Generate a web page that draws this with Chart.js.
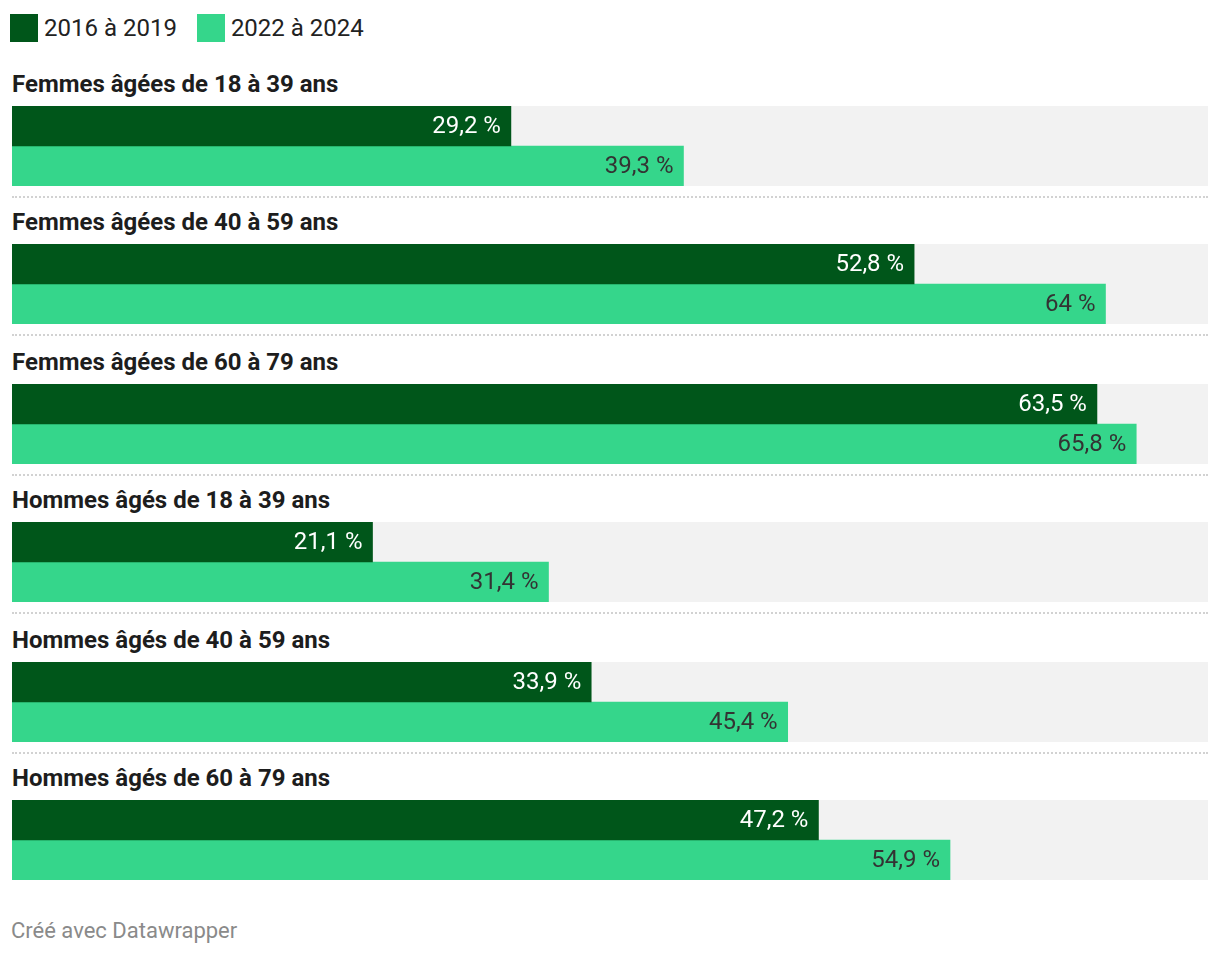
<!DOCTYPE html>
<html>
<head>
<meta charset="utf-8">
<script src="https://cdn.jsdelivr.net/npm/chart.js@4"></script>
<style>
  body { margin: 0; background: #fff; font-family: Roboto, sans-serif; }
  #wrap { position: relative; width: 1220px; height: 956px; }
  .legend { position: absolute; top: 14px; left: 10px; display: flex; align-items: center; font-size: 24px; color: #222; line-height: 28px; }
  .legend .sw { width: 28px; height: 28px; display: inline-block; margin-right: 6px; }
  .legend .item { display: flex; align-items: center; margin-right: 20px; }
  .title { position: absolute; left: 12px; font-size: 24px; font-weight: bold; color: #1d1d1d; line-height: 24px; }
  .chart { position: absolute; left: 12px; }
  .sep { position: absolute; left: 12px; width: 1196px; border-top: 2px dotted #d2d2d2; }
  .foot { position: absolute; left: 11px; top: 918px; font-size: 22px; color: #8a8a8a; }
</style>
</head>
<body>
<div id="wrap"></div>
<script>
const categories = [
  "Femmes âgées de 18 à 39 ans",
  "Femmes âgées de 40 à 59 ans",
  "Femmes âgées de 60 à 79 ans",
  "Hommes âgés de 18 à 39 ans",
  "Hommes âgés de 40 à 59 ans",
  "Hommes âgés de 60 à 79 ans"
];
const seriesNames = ["2016 à 2019", "2022 à 2024"];
const values2016 = [29.2, 52.8, 63.5, 21.1, 33.9, 47.2];
const values2022 = [39.3, 64, 65.8, 31.4, 45.4, 54.9];
const axisMax = 70;

const colors = ["#00561a", "#35d68b"];
const labelColors = ["#ffffff", "#333333"];
const barTops = [106, 244, 384, 522, 662, 800];

const wrap = document.getElementById("wrap");

// legend
const legend = document.createElement("div");
legend.className = "legend";
seriesNames.forEach((name, i) => {
  legend.innerHTML += `<span class="item"><span class="sw" style="background:${colors[i]}"></span>${name}</span>`;
});
wrap.appendChild(legend);

const fmt = v => String(v).replace(".", ",") + " %";

const valueLabels = {
  id: "valueLabels",
  beforeDraw(chart) {
    const { ctx, chartArea } = chart;
    const x0 = chart.scales.x.getPixelForValue(0);
    const x1 = chart.scales.x.getPixelForValue(axisMax);
    ctx.save();
    ctx.fillStyle = "#f2f2f2";
    ctx.fillRect(x0, chartArea.top, x1 - x0, chartArea.bottom - chartArea.top);
    ctx.restore();
  },
  afterDatasetsDraw(chart) {
    const ctx = chart.ctx;
    ctx.save();
    ctx.font = "24px Roboto";
    ctx.textAlign = "right";
    ctx.textBaseline = "middle";
    chart.data.datasets.forEach((ds, di) => {
      chart.getDatasetMeta(di).data.forEach((bar, i) => {
        ctx.fillStyle = labelColors[di];
        ctx.fillText(fmt(ds.data[i]), bar.x - 10, bar.y + 1);
      });
    });
    ctx.restore();
  }
};

categories.forEach((cat, i) => {
  const t = document.createElement("div");
  t.className = "title";
  t.style.top = (barTops[i] - 34) + "px";
  t.textContent = cat;
  wrap.appendChild(t);

  const c = document.createElement("canvas");
  c.className = "chart";
  c.width = 1196;
  c.height = 80;
  c.style.top = barTops[i] + "px";
  wrap.appendChild(c);

  if (i < categories.length - 1) {
    const s = document.createElement("div");
    s.className = "sep";
    s.style.top = (barTops[i] + 90) + "px";
    wrap.appendChild(s);
  }

  new Chart(c.getContext("2d"), {
    type: "bar",
    data: {
      labels: [cat],
      datasets: [
        { label: seriesNames[0], data: [values2016[i]], backgroundColor: colors[0], barPercentage: 1, categoryPercentage: 1 },
        { label: seriesNames[1], data: [values2022[i]], backgroundColor: colors[1], barPercentage: 1, categoryPercentage: 1 }
      ]
    },
    options: {
      indexAxis: "y",
      responsive: false,
      animation: false,
      layout: { padding: 0 },
      scales: {
        x: { min: 0, max: axisMax, display: false },
        y: { display: false }
      },
      plugins: { legend: { display: false }, tooltip: { enabled: false } }
    },
    plugins: [valueLabels]
  });
});

const foot = document.createElement("div");
foot.className = "foot";
foot.textContent = "Créé avec Datawrapper";
wrap.appendChild(foot);
</script>
</body>
</html>
